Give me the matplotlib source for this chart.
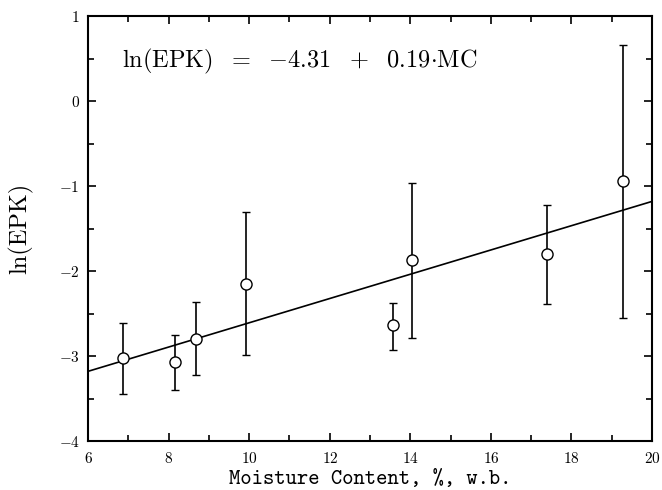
import numpy as np
import matplotlib
matplotlib.use("Agg")
import matplotlib.pyplot as plt
from matplotlib.ticker import MultipleLocator, FuncFormatter

plt.rcParams["font.family"] = ["cmr10", "DejaVu Serif"]
plt.rcParams["mathtext.fontset"] = "cm"
plt.rcParams["axes.formatter.use_mathtext"] = True

# data
mc = [6.87, 8.17, 8.69, 9.92, 13.57, 14.05, 17.38, 19.28]
ln_epk = [-3.02, -3.07, -2.80, -2.15, -2.64, -1.87, -1.80, -0.94]
err_hi = [-2.61, -2.75, -2.36, -1.31, -2.37, -0.96, -1.22, 0.66]
err_lo = [-3.45, -3.40, -3.22, -2.99, -2.93, -2.79, -2.39, -2.55]

# fitted line as drawn
fit_x = [6, 20]
fit_y = [-3.18, -1.18]

y = np.array(ln_epk)
yerr = [y - np.array(err_lo), np.array(err_hi) - y]

fig = plt.figure(figsize=(6.62, 4.9), dpi=100)
ax = fig.add_axes([0.133, 0.100, 0.852, 0.867])

ax.plot(fit_x, fit_y, color="black", lw=1.2, zorder=2)
ax.errorbar(mc, ln_epk, yerr=yerr, fmt="o", color="black", ecolor="black",
            mfc="white", mec="black", ms=8, mew=1.0, elinewidth=1.2,
            capsize=3, capthick=1.2, zorder=3)

ax.set_xlim(6, 20)
ax.set_ylim(-4, 1)
ax.xaxis.set_major_locator(MultipleLocator(2))
ax.xaxis.set_minor_locator(MultipleLocator(1))
ax.yaxis.set_major_locator(MultipleLocator(1))
ax.yaxis.set_minor_locator(MultipleLocator(0.5))
bold = FuncFormatter(lambda v, p: r"$\mathbf{%d}$" % round(v))
ax.xaxis.set_major_formatter(bold)
ax.yaxis.set_major_formatter(bold)
ax.tick_params(which="both", direction="in", top=True, right=True,
               labelsize=11, width=1.2)
ax.tick_params(which="major", length=6)
ax.tick_params(which="minor", length=4)
ax.tick_params(axis="x", pad=7)
ax.tick_params(axis="y", pad=6)
for s in ax.spines.values():
    s.set_linewidth(1.5)

ax.set_xlabel("Moisture Content, %, w.b.", fontsize=15.5, labelpad=3,
              family="cmtt10")
ax.set_ylabel("ln(EPK)", fontsize=17.5, labelpad=18)

ax.text(0.06, 0.893,
        r"$\mathrm{ln(EPK)}\ \ =\ \ {-}4.31\ \ +\ \ 0.19{\cdot}\mathrm{MC}$",
        transform=ax.transAxes, fontsize=17.5, ha="left", va="center")

fig.savefig("out.png", dpi=100)
